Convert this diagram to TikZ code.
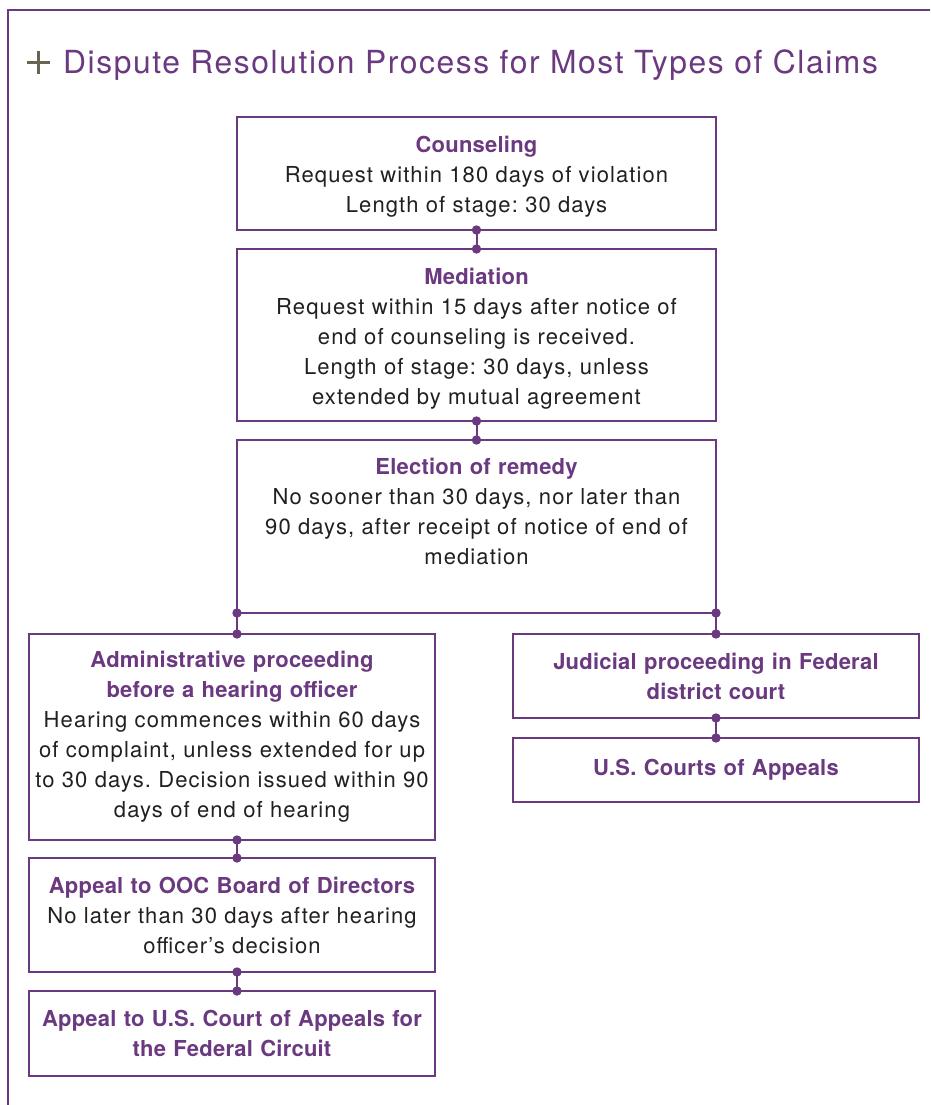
\documentclass[tikz,border=0pt]{standalone}
\usepackage{fontspec}
\setmainfont{TeX Gyre Heros}[LetterSpace=5, BoldFeatures={LetterSpace=1}]
\usetikzlibrary{positioning}
\usetikzlibrary{arrows.meta}
\definecolor{oocpurple}{RGB}{107,57,128}
\definecolor{plusgray}{RGB}{106,99,82}
\definecolor{bodytext}{RGB}{35,31,32}
\providecommand*{\stagehead}[1]{\textcolor{oocpurple}{\bfseries #1}}
\frenchspacing

\begin{document}
\begin{tikzpicture}[x = 1pt, y = 1pt, line width = 2.2pt,
    stage/.style = {draw = oocpurple, outer sep = 0pt, inner sep = 0pt, align = center, text = bodytext, font = \fontsize{22}{30}\selectfont},
    wide/.style = {stage, minimum width = 479pt, text width = 470pt},
    narrow/.style = {stage, minimum width = 406pt, text width = 400pt},
    link/.style = {oocpurple, line width = 2pt}]
    \useasboundingbox[clip] (0,0) rectangle (930,-1105);

    % outer frame and heading
    \draw[oocpurple, line width = 2.7pt] (8,-1110) |- (935,-10);
    \draw[plusgray, line width = 2.3pt] (27,-62.5) -- (50,-62.5) (38.5,-51) -- (38.5,-74);
    \node (title) [anchor = base west, inner sep = 0pt, text = oocpurple, font = \fontsize{31.8}{36}\selectfont] at (62,-74) {Dispute Resolution Process for Most Types of Claims};

    % main column
    \node (counsel) [wide, anchor = north, minimum height = 113pt] at (476.5,-117) {\rule{0pt}{22pt}\stagehead{Counseling}\\ Request within 180 days of violation\\ Length of stage: 30 days};
    \node (mediation) [wide, below = 19pt of counsel, minimum height = 172pt] {\rule{0pt}{24pt}\stagehead{Mediation}\\ Request within 15 days after notice of\\ end of counseling is received.\\ Length of stage: 30 days, unless\\ extended by mutual agreement};
    \node (election) [wide, below = 19pt of mediation, minimum height = 173pt] {\stagehead{Election of remedy}\\ No sooner than 30 days, nor later than\\ 90 days, after receipt of notice of end of\\ mediation\\ \mbox{}};

    \coordinate (leftcol) at (election.south west);
    \coordinate (rightcol) at (election.south east);

    % administrative branch
    \node (admin) [narrow, anchor = north west, minimum height = 206pt] at (29,-634) {\stagehead{Administrative proceeding}\\ \stagehead{before a hearing officer}\\ Hearing commences within 60 days\\ of complaint, unless extended for up\\ to 30 days. Decision issued within 90\\ days of end of hearing};
    \node (board) [narrow, below = 18pt of admin, minimum height = 114pt] {\stagehead{Appeal to OOC Board of Directors}\\ No later than 30 days after hearing\\ officer’s decision};
    \node (circuit) [narrow, below = 19pt of board, minimum height = 85pt] {\stagehead{Appeal to U.S. Court of Appeals for}\\ \stagehead{the Federal Circuit}};

    % judicial branch
    \node (judicial) [narrow, anchor = north west, minimum height = 84pt] at (513,-634) {\stagehead{Judicial proceeding in Federal}\\ \stagehead{district court}};
    \node (courts) [narrow, below = 20pt of judicial, minimum height = 64pt] {\stagehead{U.S. Courts of Appeals}};

    % joints between stages, dot at each end
    \foreach \from/\to in {counsel.south/mediation.north, mediation.south/election.north,
        leftcol/leftcol |- admin.north, rightcol/rightcol |- judicial.north,
        leftcol |- admin.south/leftcol |- board.north, leftcol |- board.south/leftcol |- circuit.north,
        rightcol |- judicial.south/rightcol |- courts.north}
    {
        \draw[link] (\from) -- (\to);
        \fill[oocpurple] (\from) circle (4.7pt) (\to) circle (4.7pt);
    }

\end{tikzpicture}
\end{document}
